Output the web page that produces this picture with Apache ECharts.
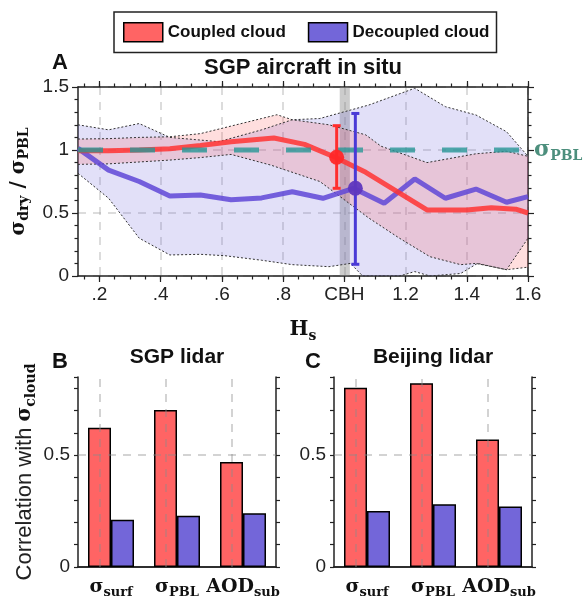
<!DOCTYPE html>
<html>
<head>
<meta charset="utf-8">
<script src="https://cdn.jsdelivr.net/npm/echarts@6/dist/echarts.min.js"></script>
<style>
  html, body { margin: 0; padding: 0; background: #fff; }
  #main { width: 583px; height: 599px; }
</style>
</head>
<body>
<div id="main"></div>
<script>
// panel A: normalised height vs sigma_dry / sigma_PBL
const hsCoupled = [0.13, 0.23, 0.33, 0.43, 0.53, 0.63, 0.77, 0.87, 0.97, 1.07, 1.27, 1.4, 1.48, 1.56, 1.6];
const ratioCoupled = [0.995, 0.995, 1.0, 1.01, 1.035, 1.065, 1.095, 1.045, 0.942, 0.823, 0.524, 0.524, 0.542, 0.53, 0.5];
const hsDecoupled = [0.13, 0.23, 0.33, 0.43, 0.53, 0.63, 0.73, 0.83, 0.93, 1.03, 1.13, 1.23, 1.33, 1.43, 1.53, 1.6];
const ratioDecoupled = [1.013, 0.84, 0.75, 0.635, 0.643, 0.605, 0.62, 0.669, 0.617, 0.696, 0.577, 0.77, 0.617, 0.69, 0.585, 0.63];

// shaded ranges (dotted outlines)
const coupledUpperHs = [0.13, 0.23, 0.33, 0.43, 0.53, 0.63, 0.73, 0.78, 0.83, 0.95, 1.07, 1.12, 1.27, 1.43, 1.53, 1.6];
const coupledUpper = [1.087, 1.09, 1.1, 1.105, 1.13, 1.19, 1.25, 1.28, 1.24, 1.2, 1.12, 1.03, 0.9, 0.97, 0.99, 0.95];
const coupledLowerHs = [0.13, 0.23, 0.33, 0.43, 0.53, 0.63, 0.76, 0.92, 1.08, 1.18, 1.28, 1.38, 1.43, 1.53, 1.6];
const coupledLower = [0.886, 0.89, 0.905, 0.92, 0.94, 0.965, 0.88, 0.75, 0.46, 0.3, 0.153, 0.09, 0.1, 0.05, 0.07];
const decoupledUpperHs = [0.13, 0.23, 0.33, 0.43, 0.59, 0.73, 0.83, 0.92, 1.08, 1.23, 1.33, 1.43, 1.53, 1.6];
const decoupledUpper = [1.2, 1.16, 1.21, 1.1, 1.066, 1.16, 1.24, 1.25, 1.357, 1.49, 1.344, 1.278, 1.145, 0.95];
const decoupledLowerHs = [0.13, 0.23, 0.33, 0.43, 0.53, 0.61, 0.73, 0.83, 0.95, 1.02, 1.06, 1.18, 1.23, 1.28, 1.38, 1.435, 1.53, 1.6];
const decoupledLower = [0.815, 0.617, 0.3, 0.167, 0.172, 0.161, 0.125, 0.09, 0.074, 0.1, 0, 0, 0.035, 0, 0.02, 0.1, 0.05, 0.3];

// values at cloud base: [Hs, mean, low, high]
const cbhCoupled = [0.975, 0.942, 0.696, 1.193];
const cbhDecoupled = [1.036, 0.696, 0.093, 1.29];

const xTickValues = [0.2, 0.4, 0.6, 0.8, 1.0, 1.2, 1.4, 1.6];
const xTickLabels = [".2", ".4", ".6", ".8", "CBH", "1.2", "1.4", "1.6"];

// panels B and C
const barCategories = ["σ_surf", "σ_PBL", "AOD_sub"];
const sgpCoupled = [0.623, 0.702, 0.47];
const sgpDecoupled = [0.211, 0.229, 0.241];
const beijingCoupled = [0.802, 0.822, 0.57];
const beijingDecoupled = [0.251, 0.281, 0.271];

const RED = "#ff6464";
const BLUE = "#7366d9";
const SANS = "Liberation Sans";
const SERIF = "DejaVu Serif";
const GRID_LINE = { show: true, lineStyle: { color: "rgba(150,150,150,0.45)", type: [8, 7], width: 1.5 } };

const minorTicks = [];
for (let v = 0.15; v <= 1.6001; v += 0.05) minorTicks.push(+v.toFixed(2));

const symRich = {
  s: { fontFamily: SERIF, fontWeight: "bold", fontSize: 20, lineHeight: 26, color: "#111" },
  sub: { fontFamily: SERIF, fontWeight: "bold", fontSize: 14, lineHeight: 10, verticalAlign: "bottom", color: "#111" },
  n: { fontFamily: SANS, fontSize: 22, lineHeight: 26, color: "#222" },
};
const catRich = {
  s: { fontFamily: SERIF, fontWeight: "bold", fontSize: 19, lineHeight: 24, color: "#111" },
  sub: { fontFamily: SERIF, fontWeight: "bold", fontSize: 13, lineHeight: 9, verticalAlign: "bottom", color: "#111" },
};

const chart = echarts.init(document.getElementById("main"));

const bandItem = (upX, upY, loX, loY, fill) => (params, api) => {
  const pts = [];
  for (let i = 0; i < upX.length; i++) pts.push(api.coord([upX[i], upY[i]]));
  for (let i = loX.length - 1; i >= 0; i--) pts.push(api.coord([loX[i], loY[i]]));
  return { type: "polygon", shape: { points: pts }, style: { fill: fill } };
};

const errorItem = (color, dotColor) => (params, api) => {
  const x = api.value(0);
  const c = api.coord([x, api.value(1)]);
  const lo = api.coord([x, api.value(2)]);
  const hi = api.coord([x, api.value(3)]);
  const st = { stroke: color, lineWidth: 3 };
  return {
    type: "group",
    children: [
      { type: "line", shape: { x1: lo[0], y1: lo[1], x2: hi[0], y2: hi[1] }, style: st },
      { type: "line", shape: { x1: lo[0] - 4, y1: lo[1], x2: lo[0] + 4, y2: lo[1] }, style: st },
      { type: "line", shape: { x1: hi[0] - 4, y1: hi[1], x2: hi[0] + 4, y2: hi[1] }, style: st },
      { type: "circle", shape: { cx: c[0], cy: c[1], r: 7.5 }, style: { fill: dotColor } },
    ],
  };
};

const boundary = (xs, ys) => ({
  type: "line",
  xAxisIndex: 0,
  yAxisIndex: 0,
  data: xs.map((x, i) => [x, ys[i]]),
  showSymbol: false,
  silent: true,
  z: 3,
  lineStyle: { color: "#333", width: 1, type: [2, 2] },
});

const pair = (xs, ys) => xs.map((x, i) => [x, ys[i]]);

const axisLine = { show: true, lineStyle: { color: "#222", width: 1.5 } };
const tickStyle = { color: "#222", width: 1.2 };

const catLabel = {
  interval: 0,
  margin: 8,
  formatter: (v) => {
    const p = v.split("_");
    return "{s|" + p[0] + "}{sub|" + p[1] + "}";
  },
  rich: catRich,
};

const barYLeft = (grid, withName) => ({
  gridIndex: grid,
  type: "value",
  min: 0,
  max: 0.85,
  interval: 0.1,
  axisLine: axisLine,
  axisTick: { show: true, length: 4, lineStyle: tickStyle },
  axisLabel: {
    fontFamily: SANS,
    fontSize: 19,
    color: "#222",
    margin: 8,
    formatter: (v) => (Math.abs(v) < 1e-6 ? "0" : Math.abs(v - 0.5) < 1e-6 ? "0.5" : ""),
  },
  splitLine: { show: false },
  name: withName ? "{n|Correlation with }{s|σ}{sub|cloud}" : "",
  nameLocation: "middle",
  nameGap: 40,
  nameTextStyle: { rich: symRich },
});

const barYRight = (grid) => ({
  gridIndex: grid,
  type: "value",
  position: "right",
  min: 0,
  max: 0.85,
  interval: 0.1,
  axisLine: axisLine,
  axisTick: { show: true, length: 4, lineStyle: tickStyle },
  axisLabel: { show: false },
  splitLine: { show: false },
});

const barXTop = (grid, title) => ({
  gridIndex: grid,
  type: "category",
  position: "top",
  data: barCategories,
  axisLine: axisLine,
  axisTick: { show: false },
  axisLabel: { show: false },
  name: title,
  nameLocation: "middle",
  nameGap: 9,
  nameTextStyle: { fontFamily: SANS, fontWeight: "bold", fontSize: 21, color: "#111" },
});

const gridMarks = {
  silent: true,
  symbol: "none",
  label: { show: false },
  lineStyle: { color: "rgba(140,140,140,0.5)", type: [8, 7], width: 1.5 },
  data: [{ yAxis: 0.5 }].concat(barCategories.map((c) => ({ xAxis: c }))),
};

const bar = (name, xi, yi, data, color, marks) => ({
  type: "bar",
  name: name,
  xAxisIndex: xi,
  yAxisIndex: yi,
  data: data,
  barWidth: 23,
  barGap: "0%",
  itemStyle: { color: color, borderColor: "#000", borderWidth: 1.5 },
  markLine: marks ? gridMarks : undefined,
});

const option = {
  animation: false,
  backgroundColor: "#fff",
  legend: {
    data: ["Coupled cloud", "Decoupled cloud"],
    left: 114,
    top: 12,
    padding: [10, 7, 10, 9],
    itemGap: 22,
    itemWidth: 39,
    itemHeight: 19,
    borderColor: "#222",
    borderWidth: 1.5,
    icon: "rect",
    itemStyle: { borderColor: "#000", borderWidth: 1.5 },
    textStyle: { fontFamily: SANS, fontWeight: "bold", fontSize: 17, color: "#111" },
  },
  graphic: [
    { type: "text", left: 52, top: 52, style: { text: "A", fontFamily: SANS, fontWeight: "bold", fontSize: 22, fill: "#111" } },
    { type: "text", left: 52, top: 351, style: { text: "B", fontFamily: SANS, fontWeight: "bold", fontSize: 22, fill: "#111" } },
    { type: "text", left: 305, top: 351, style: { text: "C", fontFamily: SANS, fontWeight: "bold", fontSize: 22, fill: "#111" } },
  ],
  grid: [
    { left: 78, top: 87, width: 450, height: 189 },
    { left: 78, top: 377, width: 198, height: 190 },
    { left: 334, top: 377, width: 198, height: 190 },
  ],
  xAxis: [
    {
      gridIndex: 0,
      type: "value",
      min: 0.13,
      max: 1.6,
      position: "bottom",
      axisLine: axisLine,
      axisTick: { show: true, length: 6, lineStyle: tickStyle, customValues: xTickValues },
      axisLabel: {
        customValues: xTickValues,
        fontFamily: SANS,
        fontSize: 19,
        color: "#222",
        margin: 9,
        formatter: (v) => {
          const i = xTickValues.findIndex((t) => Math.abs(t - v) < 1e-6);
          return i >= 0 ? xTickLabels[i] : "";
        },
      },
      splitLine: GRID_LINE,
      name: "{s|H}{sub|s}",
      nameLocation: "middle",
      nameGap: 41,
      nameTextStyle: { rich: symRich },
    },
    {
      gridIndex: 0,
      type: "value",
      min: 0.13,
      max: 1.6,
      position: "bottom",
      axisLine: { show: false },
      axisTick: { show: true, length: 3.5, lineStyle: tickStyle, customValues: minorTicks },
      axisLabel: { show: false },
      splitLine: { show: false },
    },
    {
      gridIndex: 0,
      type: "value",
      min: 0.13,
      max: 1.6,
      position: "top",
      axisLine: axisLine,
      axisTick: { show: true, length: 6, lineStyle: tickStyle, customValues: xTickValues },
      axisLabel: { show: false },
      splitLine: { show: false },
      name: "SGP aircraft in situ",
      nameLocation: "middle",
      nameGap: 8,
      nameTextStyle: { fontFamily: SANS, fontWeight: "bold", fontSize: 22, color: "#111" },
    },
    {
      gridIndex: 0,
      type: "value",
      min: 0.13,
      max: 1.6,
      position: "top",
      axisLine: { show: false },
      axisTick: { show: true, length: 3.5, lineStyle: tickStyle, customValues: minorTicks },
      axisLabel: { show: false },
      splitLine: { show: false },
    },
    {
      gridIndex: 1,
      type: "category",
      data: barCategories,
      axisLine: axisLine,
      axisTick: { show: false },
      axisLabel: catLabel,
    },
    barXTop(1, "SGP lidar"),
    {
      gridIndex: 2,
      type: "category",
      data: barCategories,
      axisLine: axisLine,
      axisTick: { show: false },
      axisLabel: catLabel,
    },
    barXTop(2, "Beijing lidar"),
  ],
  yAxis: [
    {
      gridIndex: 0,
      type: "value",
      min: 0,
      max: 1.5,
      interval: 0.5,
      axisLine: axisLine,
      axisTick: { show: true, length: 6, lineStyle: tickStyle },
      minorTick: { show: true, splitNumber: 5, length: 3.5, lineStyle: tickStyle },
      axisLabel: { fontFamily: SANS, fontSize: 19, color: "#222", margin: 9 },
      splitLine: GRID_LINE,
      name: "{s|σ}{sub|dry}{s| / σ}{sub|PBL}",
      nameLocation: "middle",
      nameGap: 36,
      nameTextStyle: { rich: symRich },
    },
    {
      gridIndex: 0,
      type: "value",
      position: "right",
      min: 0,
      max: 1.5,
      interval: 0.5,
      axisLine: axisLine,
      axisTick: { show: true, length: 6, lineStyle: tickStyle },
      minorTick: { show: true, splitNumber: 5, length: 3.5, lineStyle: tickStyle },
      axisLabel: { show: false },
      splitLine: { show: false },
    },
    barYLeft(1, true),
    barYRight(1),
    barYLeft(2, false),
    barYRight(2),
  ],
  series: [
    {
      type: "custom",
      xAxisIndex: 0,
      yAxisIndex: 0,
      silent: true,
      z: 1,
      data: [[0.13, 0]],
      renderItem: bandItem(decoupledUpperHs, decoupledUpper, decoupledLowerHs, decoupledLower, "rgba(110,100,220,0.2)"),
    },
    {
      type: "custom",
      xAxisIndex: 0,
      yAxisIndex: 0,
      silent: true,
      z: 1,
      data: [[0.13, 0]],
      renderItem: bandItem(coupledUpperHs, coupledUpper, coupledLowerHs, coupledLower, "rgba(255,90,90,0.2)"),
    },
    Object.assign(boundary(coupledUpperHs, coupledUpper), {
      markArea: {
        silent: true,
        itemStyle: { color: "rgba(128,128,128,0.4)" },
        data: [[{ xAxis: 0.985 }, { xAxis: 1.018 }]],
      },
    }),
    boundary(coupledLowerHs, coupledLower),
    boundary(decoupledUpperHs, decoupledUpper),
    boundary(decoupledLowerHs, decoupledLower),
    {
      type: "line",
      xAxisIndex: 0,
      yAxisIndex: 0,
      data: pair(hsDecoupled, ratioDecoupled),
      showSymbol: false,
      z: 4,
      lineStyle: { color: "rgba(95,70,215,0.85)", width: 5 },
    },
    {
      type: "line",
      xAxisIndex: 0,
      yAxisIndex: 0,
      data: pair(hsCoupled, ratioCoupled),
      showSymbol: false,
      z: 4,
      lineStyle: { color: "rgba(255,50,50,0.85)", width: 5 },
    },
    {
      type: "line",
      xAxisIndex: 0,
      yAxisIndex: 0,
      data: [[0.13, 1], [1.6, 1]],
      showSymbol: false,
      z: 5,
      lineStyle: { color: "rgba(40,150,150,0.8)", width: 5, type: [25, 27] },
      endLabel: {
        show: true,
        distance: 6,
        formatter: "{s|σ}{sub|PBL}",
        rich: {
          s: { fontFamily: SERIF, fontWeight: "bold", fontSize: 22, lineHeight: 26, color: "#4d8f7d" },
          sub: { fontFamily: SERIF, fontWeight: "bold", fontSize: 14, lineHeight: 10, verticalAlign: "bottom", color: "#4d8f7d" },
        },
      },
    },
    {
      type: "custom",
      xAxisIndex: 0,
      yAxisIndex: 0,
      z: 6,
      data: [cbhCoupled],
      renderItem: errorItem("#ff2e2e", "rgba(255,40,40,0.95)"),
    },
    {
      type: "custom",
      xAxisIndex: 0,
      yAxisIndex: 0,
      z: 6,
      data: [cbhDecoupled],
      renderItem: errorItem("#4a3ad6", "rgba(95,55,190,0.95)"),
    },
    bar("Coupled cloud", 4, 2, sgpCoupled, RED, true),
    bar("Decoupled cloud", 4, 2, sgpDecoupled, BLUE, false),
    bar("Coupled cloud", 6, 4, beijingCoupled, RED, true),
    bar("Decoupled cloud", 6, 4, beijingDecoupled, BLUE, false),
  ],
};

chart.setOption(option);
</script>
</body>
</html>
